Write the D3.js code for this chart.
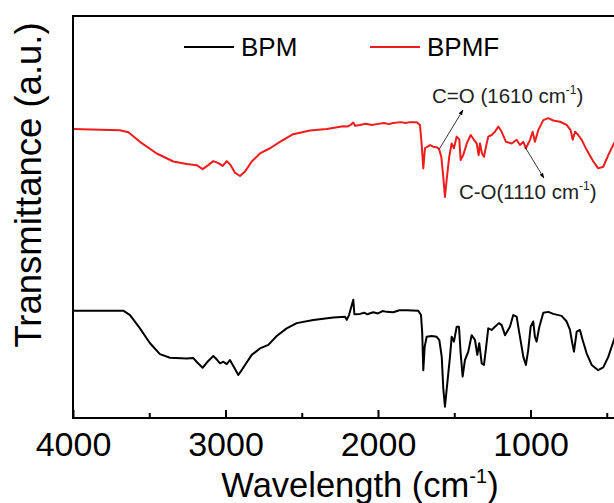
<!DOCTYPE html>
<html><head><meta charset="utf-8">
<script src="https://cdn.jsdelivr.net/npm/d3@7"></script>
<style>body{margin:0;background:#fff}svg{display:block;font-family:"Liberation Sans",Arial,sans-serif}</style>
</head><body>
<script>
const seriesNames = ["BPM", "BPMF"];
const seriesColors = ["#000000", "#ee1c1c"];
const majorTicks = [4000, 3000, 2000, 1000];
const minorTicks = [3500, 2500, 1500, 500];
// [wavenumber, transmittance (a.u.)]
const bpm = [[4000,26.7],[3670,26.7],[3626,25.6],[3561,22.3],[3495,18.6],[3430,15.9],[3364,15.0],[3254,14.8],[3211,14.9],[3185,13.8],[3150,12.5],[3113,14.2],[3080,15.4],[3058,14.6],[3036,13.6],[3014,14.0],[2992,13.4],[2971,14.4],[2944,12.6],[2916,10.7],[2894,11.9],[2872,13.2],[2828,15.7],[2774,17.3],[2719,18.2],[2664,20.4],[2599,22.3],[2533,23.6],[2424,24.4],[2293,25.0],[2216,25.2],[2205,24.4],[2190,25.6],[2162,29.4],[2155,25.8],[2118,25.9],[2090,26.2],[2070,25.8],[2031,26.3],[2000,26.0],[1970,26.6],[1943,26.4],[1900,26.3],[1860,26.8],[1812,26.8],[1736,26.7],[1718,25.6],[1710,21.1],[1703,11.9],[1694,17.7],[1681,20.2],[1648,20.4],[1615,20.2],[1598,19.4],[1582,15.2],[1572,7.4],[1561,2.8],[1550,7.0],[1539,11.1],[1528,15.2],[1517,20.2],[1502,19.0],[1484,22.7],[1469,22.7],[1458,16.1],[1445,10.3],[1430,14.4],[1408,16.5],[1386,20.6],[1364,19.4],[1349,15.7],[1336,18.6],[1320,13.6],[1305,13.2],[1292,17.3],[1277,22.3],[1255,21.9],[1233,22.7],[1207,23.6],[1189,23.1],[1167,20.6],[1135,22.7],[1113,25.6],[1091,25.2],[1069,20.2],[1047,15.2],[1030,13.2],[1015,16.9],[999,22.7],[982,24.0],[971,20.2],[960,19.0],[942,22.7],[916,26.2],[883,26.4],[851,25.9],[796,25.4],[763,24.0],[741,21.9],[726,18.6],[715,16.5],[697,21.5],[676,21.9],[658,19.4],[632,16.1],[599,13.2],[556,11.9],[523,12.6],[490,15.2],[453,19.4],[400,24.5]];
const bpmf = [[4000,71.9],[3692,71.6],[3637,71.1],[3561,68.7],[3451,65.8],[3342,63.8],[3254,63.2],[3189,62.9],[3150,61.9],[3113,62.9],[3080,63.9],[3047,63.4],[3018,62.7],[2992,63.9],[2966,62.9],[2938,61.0],[2905,60.2],[2872,61.3],[2828,63.8],[2774,65.8],[2708,67.1],[2643,68.7],[2556,70.6],[2446,71.5],[2337,71.9],[2228,72.6],[2200,72.5],[2180,72.9],[2162,73.5],[2150,72.7],[2118,72.9],[2080,73.2],[2040,72.9],[2009,73.1],[1960,73.4],[1930,73.1],[1900,73.4],[1850,73.6],[1820,73.4],[1790,73.6],[1746,73.6],[1725,72.9],[1714,68.3],[1703,62.1],[1692,67.1],[1659,67.9],[1638,67.5],[1611,67.3],[1598,66.7],[1585,65.0],[1572,60.0],[1561,55.0],[1550,59.2],[1533,65.0],[1517,68.3],[1502,67.1],[1484,70.0],[1467,69.3],[1458,64.2],[1441,65.4],[1418,68.3],[1392,70.4],[1371,69.2],[1353,68.3],[1340,65.4],[1331,68.3],[1318,65.8],[1305,65.0],[1292,67.5],[1277,70.0],[1255,70.4],[1233,71.2],[1211,72.5],[1189,71.2],[1161,68.7],[1123,68.3],[1091,69.2],[1069,67.9],[1047,68.7],[1030,67.1],[1003,69.2],[986,71.2],[971,68.7],[949,71.6],[916,74.1],[883,74.6],[851,74.0],[807,73.7],[763,72.9],[737,71.6],[723,69.2],[708,71.2],[687,70.4],[664,69.2],[632,66.7],[588,63.8],[556,62.1],[523,62.5],[490,65.4],[453,68.3],[400,71.5]];
const annotations = [
  {label:"C=O (1610 cm", sup:"-1", tail:")", from:[1598,66.9], to:[1443,76.6], text:[1646,78.4]},
  {label:"C-O(1110 cm", sup:"-1", tail:")", from:[1036,67.4], to:[912,59.7], text:[1469,54.5]}
];

const W = 614, H = 503;
const svg = d3.select("body").append("svg").attr("width", W).attr("height", H);
const x = d3.scaleLinear().domain([4000, 400]).range([73, 622]);
const y = d3.scaleLinear().domain([0, 100]).range([418, 16]);

svg.append("defs").append("marker").attr("id","ah").attr("viewBox","0 0 10 10")
  .attr("refX",9).attr("refY",5).attr("markerWidth",7).attr("markerHeight",7)
  .attr("orient","auto").append("path").attr("d","M0,1.5L10,5L0,8.5Z").attr("fill","#000");

const line = d3.line().x(d => x(d[0])).y(d => y(d[1]));
[bpm, bpmf].forEach((s, i) => {
  svg.append("path").datum(s).attr("d", line).attr("fill","none")
    .attr("stroke", seriesColors[i]).attr("stroke-width", 2).attr("stroke-linejoin","round");
});

// frame
svg.append("rect").attr("x", x(4000)).attr("y", y(100)).attr("width", x(400)-x(4000))
  .attr("height", y(0)-y(100)).attr("fill","none").attr("stroke","#000").attr("stroke-width",2);

// bottom axis
const axis = d3.axisBottom(x).tickValues(majorTicks).tickSizeInner(-8).tickSizeOuter(0).tickPadding(14)
  .tickFormat(d3.format("d"));
const gx = svg.append("g").attr("transform", `translate(0,${y(0)})`).call(axis);
gx.select(".domain").remove();
gx.selectAll(".tick line").attr("stroke","#000").attr("stroke-width",2);
gx.selectAll(".tick text").attr("font-size",34).attr("fill","#000").attr("font-family","Liberation Sans, Arial, sans-serif");
const axisMinor = d3.axisBottom(x).tickValues(minorTicks).tickSizeInner(-5).tickSizeOuter(0).tickFormat("");
const gm = svg.append("g").attr("transform", `translate(0,${y(0)})`).call(axisMinor);
gm.select(".domain").remove();
gm.selectAll(".tick line").attr("stroke","#000").attr("stroke-width",2);

// axis titles
const xt = svg.append("text").attr("x", 360).attr("y", 497).attr("text-anchor","middle")
  .attr("font-size",34.5).attr("fill","#000");
xt.append("tspan").text("Wavelength (cm");
xt.append("tspan").text("-1").attr("font-size",20).attr("dy",-14);
xt.append("tspan").text(")").attr("dy",14);

svg.append("text").attr("transform","translate(41,185) rotate(-90)").attr("text-anchor","middle")
  .attr("font-size",36.5).attr("fill","#000").text("Transmittance (a.u.)");

// legend
const legX = [184, 370];
seriesNames.forEach((n, i) => {
  svg.append("line").attr("x1", legX[i]).attr("x2", legX[i]+50).attr("y1", 47).attr("y2", 47)
    .attr("stroke", seriesColors[i]).attr("stroke-width", 2);
  svg.append("text").attr("x", legX[i]+57).attr("y", 56).attr("font-size", 26).attr("fill","#000").text(n);
});

// annotations
annotations.forEach(a => {
  svg.append("line").attr("x1", x(a.from[0])).attr("y1", y(a.from[1]))
    .attr("x2", x(a.to[0])).attr("y2", y(a.to[1])).attr("stroke","#000").attr("stroke-width",0.8)
    .attr("marker-end","url(#ah)");
  const t = svg.append("text").attr("x", x(a.text[0])).attr("y", y(a.text[1])).attr("font-size",20.5).attr("fill","#222");
  t.append("tspan").text(a.label);
  t.append("tspan").text(a.sup).attr("font-size",12).attr("dy",-9);
  t.append("tspan").text(a.tail).attr("dy",9);
});
</script>
</body></html>
